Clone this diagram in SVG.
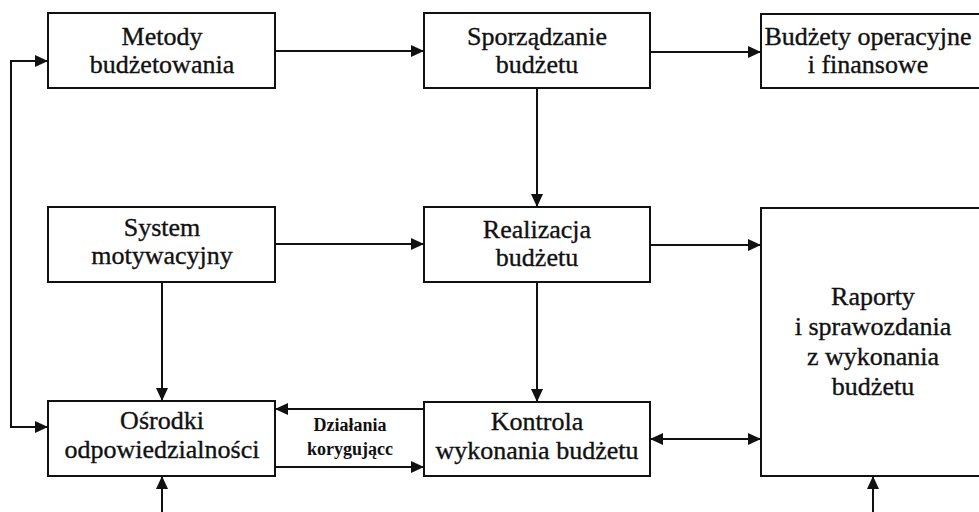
<svg xmlns="http://www.w3.org/2000/svg" width="979" height="512" viewBox="0 0 979 512">
<style>
.box{fill:#fff;stroke:#111;stroke-width:2}
.t{font-family:'Liberation Serif','DejaVu Serif',serif;font-size:26px;fill:#111;stroke:#111;stroke-width:0.35;text-anchor:middle}
.s{font-family:'Liberation Serif','DejaVu Serif',serif;font-size:18px;font-weight:bold;fill:#111;text-anchor:middle}
.c{fill:none;stroke:#111;stroke-width:2}
</style>
<defs>
<marker id="ah" markerUnits="userSpaceOnUse" markerWidth="14" markerHeight="12" refX="13" refY="6" orient="auto-start-reverse">
<path d="M0,0 L13,6 L0,12 Z" fill="#111"/>
</marker>
</defs>
<g id="connectors">
<path class="c" d="M275,51 H424" marker-end="url(#ah)"/>
<path class="c" d="M650,52 H761" marker-end="url(#ah)"/>
<path class="c" d="M537,88 V207" marker-end="url(#ah)"/>
<path class="c" d="M275,244 H424" marker-end="url(#ah)"/>
<path class="c" d="M650,245 H761" marker-end="url(#ah)"/>
<path class="c" d="M162,282 V401" marker-end="url(#ah)"/>
<path class="c" d="M537,282 V402" marker-end="url(#ah)"/>
<path class="c" d="M424,409 H275" marker-end="url(#ah)"/>
<path class="c" d="M275,467 H424" marker-end="url(#ah)"/>
<path class="c" d="M650,439 H761" marker-start="url(#ah)" marker-end="url(#ah)"/>
<path class="c" d="M48,61 H11 V427 H48" marker-start="url(#ah)" marker-end="url(#ah)"/>
<path class="c" d="M162,512 V476" marker-end="url(#ah)"/>
<path class="c" d="M873,512 V476" marker-end="url(#ah)"/>
<text class="s" x="350" y="431">Działania</text>
<text class="s" x="350" y="455">korygującc</text>
</g>
<g id="metody">
<rect class="box" x="48" y="13" width="227" height="75"/>
<text class="t" x="162" y="45">Metody</text>
<text class="t" x="162" y="73">budżetowania</text>
</g>
<g id="sporzadzanie">
<rect class="box" x="424" y="13" width="226" height="75"/>
<text class="t" x="537" y="45">Sporządzanie</text>
<text class="t" x="537" y="73">budżetu</text>
</g>
<g id="budzety">
<rect class="box" x="761" y="14" width="230" height="74"/>
<text class="t" x="868" y="45">Budżety operacyjne</text>
<text class="t" x="868" y="73">i finansowe</text>
</g>
<g id="system">
<rect class="box" x="48" y="207" width="227" height="75"/>
<text class="t" x="162" y="236">System</text>
<text class="t" x="162" y="264">motywacyjny</text>
</g>
<g id="realizacja">
<rect class="box" x="424" y="207" width="226" height="75"/>
<text class="t" x="537" y="238">Realizacja</text>
<text class="t" x="537" y="266">budżetu</text>
</g>
<g id="raporty">
<rect class="box" x="761" y="208" width="230" height="268"/>
<text class="t" x="873" y="305">Raporty</text>
<text class="t" x="873" y="335">i sprawozdania</text>
<text class="t" x="873" y="365">z wykonania</text>
<text class="t" x="873" y="395">budżetu</text>
</g>
<g id="osrodki">
<rect class="box" x="48" y="401" width="227" height="75"/>
<text class="t" x="162" y="429">Ośrodki</text>
<text class="t" x="162" y="458">odpowiedzialności</text>
</g>
<g id="kontrola">
<rect class="box" x="424" y="402" width="226" height="74"/>
<text class="t" x="537" y="430">Kontrola</text>
<text class="t" x="537" y="459">wykonania budżetu</text>
</g>
</svg>
